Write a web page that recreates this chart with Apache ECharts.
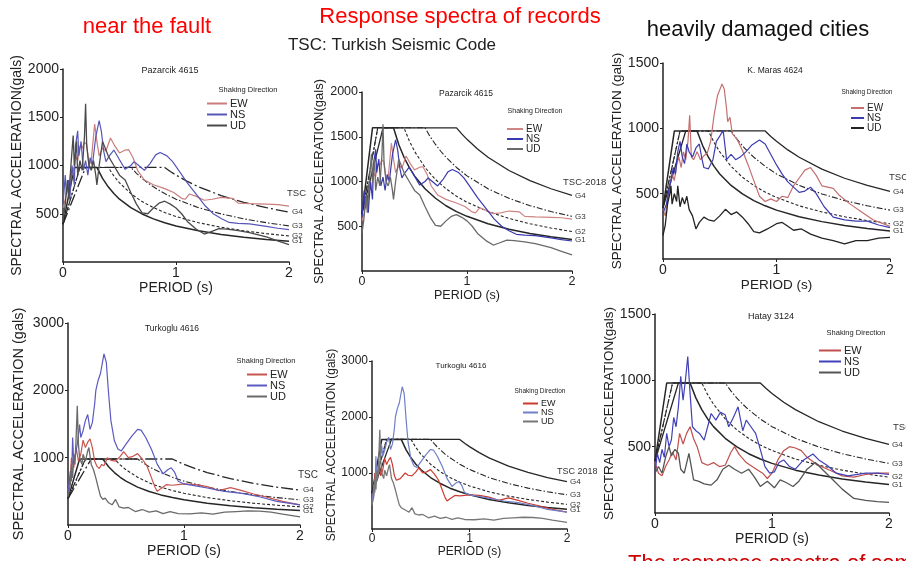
<!DOCTYPE html>
<html>
<head>
<meta charset="utf-8">
<script src="https://cdn.jsdelivr.net/npm/echarts@6/dist/echarts.min.js"></script>
<style>
  html, body { margin: 0; padding: 0; background: #fff; }
  #chart { width: 906px; height: 561px; }
</style>
</head>
<body>
<div id="chart"></div>
<script>
// --- record spectra [period (s), acceleration (gals)] ---
const pazEW = [[0,560],[0.02,650],[0.04,800],[0.05,700],[0.07,950],[0.09,900],[0.11,1100],[0.13,1050],[0.15,1200],[0.17,1180],[0.19,1240],[0.21,1220],[0.23,1000],[0.25,1050],[0.28,1430],[0.30,1250],[0.32,1100],[0.35,1180],[0.38,1150],[0.42,1285],[0.46,1200],[0.50,1130],[0.55,1160],[0.58,1165],[0.62,1080],[0.66,950],[0.72,850],[0.80,800],[0.90,760],[0.98,720],[1.05,660],[1.08,650],[1.12,705],[1.18,680],[1.25,640],[1.32,650],[1.40,670],[1.50,660],[1.55,610],[1.65,605],[1.80,600],[1.90,595],[2.00,580]];
const pazNS = [[0,600],[0.02,900],[0.03,700],[0.05,850],[0.06,650],[0.08,1000],[0.10,800],[0.11,1200],[0.13,1360],[0.14,1100],[0.16,1250],[0.18,950],[0.20,1050],[0.22,900],[0.24,1080],[0.26,1000],[0.29,1300],[0.32,1465],[0.34,1350],[0.36,1150],[0.38,1040],[0.41,1100],[0.45,1160],[0.50,1060],[0.55,960],[0.60,1000],[0.63,1040],[0.67,1000],[0.72,950],[0.77,1020],[0.82,1110],[0.86,1135],[0.92,1100],[0.97,1040],[1.03,940],[1.10,820],[1.18,700],[1.26,580],[1.33,500],[1.40,450],[1.47,410],[1.55,400],[1.65,395],[1.80,370],[1.90,350],[2.00,335]];
const pazUD = [[0,420],[0.02,600],[0.04,850],[0.05,650],[0.07,1000],[0.09,1310],[0.10,1000],[0.12,1250],[0.13,900],[0.15,1050],[0.17,950],[0.19,1300],[0.20,1640],[0.21,1200],[0.23,1000],[0.25,950],[0.27,1050],[0.29,900],[0.30,800],[0.32,1000],[0.35,1250],[0.40,1100],[0.45,1000],[0.50,900],[0.55,850],[0.60,720],[0.65,600],[0.70,510],[0.75,500],[0.80,560],[0.85,610],[0.90,630],[0.95,600],[1.00,560],[1.05,500],[1.10,420],[1.18,340],[1.25,290],[1.30,310],[1.38,345],[1.45,340],[1.55,325],[1.65,305],[1.80,260],[1.90,220],[2.00,180]];

const turEW = [[0,500],[0.02,700],[0.03,1000],[0.05,850],[0.07,1150],[0.09,950],[0.11,1050],[0.13,1260],[0.15,1150],[0.17,1230],[0.19,1280],[0.21,1150],[0.23,950],[0.25,870],[0.27,840],[0.29,900],[0.31,880],[0.34,1000],[0.37,960],[0.41,950],[0.45,1020],[0.48,1090],[0.52,1000],[0.56,1020],[0.60,1060],[0.64,980],[0.68,880],[0.72,700],[0.75,560],[0.77,500],[0.80,540],[0.85,600],[0.90,590],[0.95,600],[1.00,610],[1.10,600],[1.20,570],[1.30,510],[1.40,555],[1.50,510],[1.60,460],[1.70,420],[1.85,350],[2.00,300]];
const turNS = [[0,450],[0.02,800],[0.03,650],[0.04,1300],[0.05,900],[0.06,1000],[0.08,1200],[0.10,1490],[0.11,1300],[0.13,1400],[0.15,1550],[0.17,1640],[0.19,1420],[0.21,1520],[0.23,1800],[0.24,2000],[0.26,2150],[0.28,2250],[0.31,2540],[0.33,2420],[0.35,1950],[0.37,1550],[0.40,1250],[0.43,1130],[0.46,1100],[0.50,1200],[0.55,1320],[0.60,1420],[0.63,1410],[0.67,1300],[0.72,1120],[0.77,900],[0.82,760],[0.86,820],[0.89,850],[0.92,780],[0.95,650],[1.00,610],[1.10,580],[1.20,550],[1.35,500],[1.50,470],[1.65,420],[1.80,350],[2.00,300]];
const turUD = [[0,420],[0.02,600],[0.03,900],[0.04,700],[0.05,1050],[0.06,900],[0.07,1300],[0.08,1770],[0.09,1200],[0.10,1000],[0.12,900],[0.13,1050],[0.15,950],[0.17,1100],[0.18,1150],[0.20,900],[0.22,820],[0.24,700],[0.26,560],[0.28,430],[0.30,380],[0.32,400],[0.35,330],[0.38,300],[0.41,380],[0.44,270],[0.48,250],[0.52,260],[0.58,200],[0.64,230],[0.70,190],[0.76,210],[0.82,170],[0.88,200],[0.95,170],[1.05,165],[1.15,180],[1.25,160],[1.35,190],[1.45,200],[1.55,210],[1.65,205],[1.75,190],[1.85,160],[2.00,120]];

const kmEW = [[0,380],[0.02,330],[0.04,450],[0.06,550],[0.08,650],[0.10,600],[0.12,720],[0.14,780],[0.16,700],[0.18,820],[0.20,760],[0.22,900],[0.235,1100],[0.25,780],[0.27,760],[0.30,820],[0.33,760],[0.36,790],[0.39,810],[0.42,900],[0.45,1100],[0.48,1250],[0.52,1340],[0.54,1300],[0.56,1150],[0.57,1050],[0.59,1085],[0.61,960],[0.65,920],[0.70,830],[0.75,720],[0.80,600],[0.85,480],[0.90,440],[0.95,460],[1.00,440],[1.05,480],[1.10,470],[1.15,560],[1.20,620],[1.25,680],[1.30,700],[1.35,640],[1.40,560],[1.45,550],[1.50,540],[1.55,490],[1.65,420],[1.75,360],[1.85,300],[2.00,250]];
const kmNS = [[0,350],[0.03,420],[0.05,520],[0.07,600],[0.09,700],[0.11,650],[0.13,820],[0.15,900],[0.17,780],[0.19,730],[0.21,880],[0.23,820],[0.26,780],[0.29,850],[0.32,880],[0.34,780],[0.36,700],[0.40,690],[0.44,760],[0.47,900],[0.50,940],[0.53,985],[0.56,760],[0.60,800],[0.64,760],[0.68,780],[0.73,820],[0.78,870],[0.85,910],[0.90,880],[0.95,800],[1.00,720],[1.05,650],[1.10,590],[1.20,510],[1.25,520],[1.30,550],[1.35,500],[1.42,400],[1.50,320],[1.60,300],[1.70,290],[1.80,290],[1.90,260],[2.00,240]];
const kmUD = [[0,180],[0.02,260],[0.04,420],[0.06,500],[0.07,560],[0.08,420],[0.10,500],[0.12,440],[0.13,560],[0.15,400],[0.17,470],[0.19,420],[0.21,480],[0.23,380],[0.26,330],[0.29,230],[0.32,280],[0.36,320],[0.40,300],[0.45,290],[0.50,330],[0.55,380],[0.60,340],[0.65,360],[0.70,320],[0.75,270],[0.80,210],[0.85,200],[0.92,230],[1.00,270],[1.05,280],[1.10,250],[1.15,220],[1.22,230],[1.30,190],[1.40,160],[1.50,140],[1.60,115],[1.70,140],[1.80,140],[1.90,160],[2.00,165]];

const htEW = [[0,380],[0.03,300],[0.06,280],[0.09,350],[0.12,400],[0.15,460],[0.18,400],[0.21,600],[0.24,520],[0.27,600],[0.30,650],[0.33,560],[0.36,500],[0.40,380],[0.45,360],[0.50,380],[0.55,350],[0.60,360],[0.65,460],[0.68,500],[0.72,440],[0.78,380],[0.85,340],[0.92,300],[0.96,260],[1.00,300],[1.05,400],[1.10,470],[1.15,500],[1.20,490],[1.25,470],[1.30,420],[1.36,380],[1.42,350],[1.50,320],[1.60,280],[1.70,270],[1.80,290],[1.90,300],[2.00,300]];
const htNS = [[0,300],[0.02,450],[0.04,380],[0.06,480],[0.08,420],[0.10,600],[0.12,500],[0.14,550],[0.16,720],[0.18,650],[0.20,800],[0.22,1030],[0.24,850],[0.26,1000],[0.28,1180],[0.30,900],[0.32,650],[0.35,620],[0.38,600],[0.42,550],[0.45,650],[0.48,750],[0.52,700],[0.56,760],[0.60,740],[0.63,650],[0.67,720],[0.71,800],[0.75,620],[0.78,700],[0.82,650],[0.86,600],[0.90,480],[0.94,350],[0.98,300],[1.02,310],[1.06,380],[1.10,400],[1.15,350],[1.20,330],[1.27,400],[1.35,445],[1.40,400],[1.47,360],[1.55,300],[1.65,280],[1.80,300],[1.90,300],[2.00,290]];
const htUD = [[0,300],[0.03,350],[0.06,300],[0.09,420],[0.12,500],[0.14,430],[0.17,480],[0.20,450],[0.22,330],[0.25,300],[0.29,450],[0.31,350],[0.33,250],[0.37,240],[0.42,220],[0.48,210],[0.53,250],[0.58,330],[0.63,360],[0.68,330],[0.74,300],[0.80,330],[0.85,270],[0.90,200],[0.96,240],[1.02,190],[1.07,250],[1.12,230],[1.18,200],[1.23,240],[1.30,330],[1.37,380],[1.44,320],[1.52,250],[1.60,180],[1.70,110],[1.80,95],[1.90,85],[2.00,80]];

// --- code design spectra (TSC and TSC-2018), soil groups G1..G4 ---
const tscG1 = [[0,392],[0.1,980],[0.3,980],[0.35,866],[0.4,779],[0.45,709],[0.5,651],[0.6,563],[0.7,498],[0.8,447],[0.9,407],[1.0,374],[1.2,323],[1.4,286],[1.6,257],[1.8,234],[2.0,215]];
const tscG2 = [[0,392],[0.15,980],[0.4,980],[0.45,892],[0.5,820],[0.6,709],[0.7,626],[0.8,563],[0.9,512],[1.0,471],[1.2,407],[1.4,360],[1.6,323],[1.8,294],[2.0,270]];
const tscG3 = [[0,392],[0.15,980],[0.6,980],[0.65,919],[0.7,866],[0.75,820],[0.8,779],[0.9,709],[1.0,651],[1.2,563],[1.4,498],[1.6,447],[1.8,407],[2.0,374]];
const tscG4 = [[0,392],[0.2,980],[0.9,980],[0.95,938],[1.0,901],[1.1,835],[1.2,779],[1.4,688],[1.6,618],[1.8,563],[2.0,517]];

const t18G1 = [[0,640],[0.1,1600],[0.3,1600],[0.35,1413],[0.4,1271],[0.45,1157],[0.5,1062],[0.6,919],[0.7,813],[0.8,729],[0.9,664],[1.0,611],[1.2,528],[1.4,467],[1.6,419],[1.8,382],[2.0,351]];
const t18G2 = [[0,640],[0.15,1600],[0.4,1600],[0.45,1456],[0.5,1338],[0.6,1157],[0.7,1022],[0.8,919],[0.9,836],[1.0,769],[1.2,664],[1.4,587],[1.6,528],[1.8,480],[2.0,441]];
const t18G3 = [[0,640],[0.15,1600],[0.6,1600],[0.65,1500],[0.7,1414],[0.75,1338],[0.8,1271],[0.9,1157],[1.0,1063],[1.2,919],[1.4,812],[1.6,730],[1.8,664],[2.0,611]];
const t18G4 = [[0,640],[0.2,1600],[0.9,1600],[0.95,1532],[1.0,1471],[1.1,1363],[1.2,1271],[1.4,1123],[1.6,1010],[1.8,919],[2.0,845]];

const recordNames = ['EW', 'NS', 'UD'];
const codeNames = ['G1', 'G2', 'G3', 'G4'];

const FONT = 'Liberation Sans, Arial, sans-serif';
const DASH = [3, 2];
const DASHDOT = [6, 2, 1.5, 2];
const LONGDASHDOT = [12, 3, 2, 3];

// layout of the six panels
const panels = [
  { box: [63, 69, 226, 193], yMax: 2000, yStep: 500, rec: [pazEW, pazNS, pazUD], code: [tscG1, tscG2, tscG3, tscG4],
    colors: ['#c97d7d', '#5656b8', '#4a4a4a'], g4: LONGDASHDOT,
    title: 'Pazarcik 4615', titleAt: [170, 66, 9], yName: 'SPECTRAL ACCELERATION(gals)', yNameSize: 14, yGap: 34,
    tickSize: 14, xNameSize: 14, xGap: 16,
    shake: [248, 86, 7.5], legend: [207, 98, 20, 11, 11], code18: 'TSC', codeAt: [287, 188, 9.5] },
  { box: [362, 92, 210, 179], yMax: 2000, yStep: 500, rec: [pazEW, pazNS, pazUD], code: [t18G1, t18G2, t18G3, t18G4],
    colors: ['#d08585', '#3a3ab0', '#6a6a6a'], g4: 'solid',
    title: 'Pazarcik 4615', titleAt: [466, 89, 8.5], yName: 'SPECTRAL ACCELERATION(gals)', yNameSize: 13, yGap: 32,
    tickSize: 12.5, xNameSize: 12.5, xGap: 13,
    shake: [535, 108, 7], legend: [507, 124, 16, 10, 9.5], code18: 'TSC-2018', codeAt: [563, 177, 9.5] },
  { box: [663, 63, 227, 196], yMax: 1500, yStep: 500, rec: [kmEW, kmNS, kmUD], code: [tscG1, tscG2, tscG3, tscG4],
    colors: ['#c46f6f', '#3c3cb0', '#222222'], g4: 'solid',
    title: 'K. Maras 4624', titleAt: [775, 66, 8.5], yName: 'SPECTRAL ACCELERATION (gals)', yNameSize: 13.5, yGap: 34,
    tickSize: 14, xNameSize: 13.5, xGap: 14,
    shake: [867, 89, 6.5], legend: [851, 103, 13, 10, 7.5], code18: 'TSC', codeAt: [889, 172, 9.5] },
  { box: [68, 323, 232, 202], yMax: 3000, yStep: 1000, rec: [turEW, turNS, turUD], code: [tscG1, tscG2, tscG3, tscG4],
    colors: ['#c8554f', '#5a5ac0', '#6a6a6a'], g4: LONGDASHDOT,
    title: 'Turkoglu 4616', titleAt: [172, 324, 8.5], yName: 'SPECTRAL ACCELERATION (gals)', yNameSize: 14.5, yGap: 42,
    tickSize: 14, xNameSize: 14, xGap: 17,
    shake: [266, 357, 7.5], legend: [247, 369, 20, 11, 10.5], code18: 'TSC', codeAt: [298, 470, 10] },
  { box: [372, 361, 195, 168], yMax: 3000, yStep: 1000, rec: [turEW, turNS, turUD], code: [t18G1, t18G2, t18G3, t18G4],
    colors: ['#cc3b30', '#6f7fc8', '#777777'], g4: 'solid',
    title: 'Turkoglu 4616', titleAt: [461, 362, 8], yName: 'SPECTRAL ACCELERATION (gals)', yNameSize: 12, yGap: 33,
    tickSize: 12, xNameSize: 12, xGap: 14,
    shake: [540, 388, 6.5], legend: [523, 399, 15, 9, 7.5], code18: 'TSC 2018', codeAt: [557, 467, 9] },
  { box: [655, 314, 234, 199], yMax: 1500, yStep: 500, rec: [htEW, htNS, htUD], code: [tscG1, tscG2, tscG3, tscG4],
    colors: ['#c0504d', '#4040b8', '#555555'], g4: 'solid',
    title: 'Hatay 3124', titleAt: [771, 312, 9], yName: 'SPECTRAL ACCELERATION(gals)', yNameSize: 13.5, yGap: 38,
    tickSize: 14, xNameSize: 14, xGap: 18,
    shake: [856, 329, 7.5], legend: [819, 345, 22, 11, 10], code18: 'TSC', codeAt: [893, 422, 9.5] }
];

const grids = [], xAxes = [], yAxes = [], series = [], legends = [];
const titles = [
  { text: 'near the fault', left: 147, top: 16, textAlign: 'center', padding: 0,
    textStyle: { color: '#ff0000', fontSize: 22, fontWeight: 'normal', fontFamily: FONT } },
  { text: 'Response spectra of records', left: 460, top: 6, textAlign: 'center', padding: 0,
    textStyle: { color: '#ff0000', fontSize: 22, fontWeight: 'normal', fontFamily: FONT } },
  { text: 'heavily damaged cities', left: 758, top: 19, textAlign: 'center', padding: 0,
    textStyle: { color: '#111', fontSize: 22, fontWeight: 'normal', fontFamily: FONT } },
  { text: 'TSC: Turkish Seismic Code', left: 392, top: 37, textAlign: 'center', padding: 0,
    textStyle: { color: '#222', fontSize: 17, fontWeight: 'normal', fontFamily: FONT } },
  { text: 'The response spectra of some', left: 628, top: 553, padding: 0,
    textStyle: { color: '#cc0000', fontSize: 22, fontWeight: 'normal', fontFamily: FONT } }
];

panels.forEach((p, i) => {
  grids.push({ left: p.box[0], top: p.box[1], width: p.box[2], height: p.box[3] });

  xAxes.push({
    gridIndex: i, type: 'value', min: 0, max: 2, interval: 1,
    name: 'PERIOD (s)', nameLocation: 'middle', nameGap: p.xGap,
    nameTextStyle: { fontSize: p.xNameSize, color: '#222', fontFamily: FONT, verticalAlign: 'top' },
    axisLine: { onZero: false, lineStyle: { color: '#222', width: 1.5 } },
    axisTick: { length: 3, lineStyle: { color: '#222' } },
    axisLabel: { fontSize: p.tickSize, color: '#222', margin: 4, fontFamily: FONT },
    splitLine: { show: false }
  });

  yAxes.push({
    gridIndex: i, type: 'value', min: 0, max: p.yMax, interval: p.yStep,
    name: p.yName, nameLocation: 'middle', nameGap: p.yGap,
    nameTextStyle: { fontSize: p.yNameSize, color: '#222', fontFamily: FONT },
    axisLine: { show: true, lineStyle: { color: '#222', width: 1.5 } },
    axisTick: { show: true, length: 3, lineStyle: { color: '#222' } },
    axisLabel: { fontSize: p.tickSize, color: '#222', margin: 4, showMinLabel: false, fontFamily: FONT,
      formatter: v => String(v) },
    splitLine: { show: false }
  });

  // code spectra
  const codeTypes = ['solid', DASH, DASHDOT, p.g4];
  const codeWidths = [1.5, 1.1, 1.1, 1.3];
  p.code.forEach((d, k) => {
    series.push({
      type: 'line', name: codeNames[k], xAxisIndex: i, yAxisIndex: i, data: d,
      showSymbol: false, silent: true, z: 2,
      lineStyle: { color: '#262626', width: codeWidths[k], type: codeTypes[k] },
      itemStyle: { color: '#262626' },
      endLabel: { show: true, formatter: codeNames[k], fontSize: 8, color: '#333', distance: 3, fontFamily: FONT }
    });
  });

  // record spectra
  p.rec.forEach((d, k) => {
    series.push({
      type: 'line', name: recordNames[k], xAxisIndex: i, yAxisIndex: i, data: d,
      showSymbol: false, silent: true, z: 3,
      lineStyle: { color: p.colors[k], width: k === 2 ? 1.3 : 1.2 },
      itemStyle: { color: p.colors[k] }
    });
  });

  legends.push({
    data: recordNames.map((n, k) => ({ name: n, itemStyle: { color: p.colors[k] } })),
    orient: 'vertical', left: p.legend[0], top: p.legend[1], padding: 0,
    itemWidth: p.legend[2], itemHeight: 2, itemGap: 0, icon: 'rect', selectedMode: false,
    textStyle: { fontSize: p.legend[3], lineHeight: p.legend[4], color: '#222', fontFamily: FONT, padding: [0, 0, 0, -2] }
  });

  titles.push({ text: p.title, left: p.titleAt[0], top: p.titleAt[1], textAlign: 'center', padding: 0,
    textStyle: { fontSize: p.titleAt[2], color: '#222', fontWeight: 'normal', fontFamily: FONT } });
  titles.push({ text: 'Shaking Direction', left: p.shake[0], top: p.shake[1], textAlign: 'center', padding: 0,
    textStyle: { fontSize: p.shake[2], color: '#222', fontWeight: 'normal', fontFamily: FONT } });
  titles.push({ text: p.code18, left: p.codeAt[0], top: p.codeAt[1], padding: 0,
    textStyle: { fontSize: p.codeAt[2], color: '#333', fontWeight: 'normal', fontFamily: FONT } });
});

const chart = echarts.init(document.getElementById('chart'), null, { renderer: 'canvas' });
chart.setOption({
  backgroundColor: '#ffffff',
  animation: false,
  title: titles,
  legend: legends,
  grid: grids,
  xAxis: xAxes,
  yAxis: yAxes,
  series: series
});

window.addEventListener('resize', () => chart.resize());
</script>
</body>
</html>
